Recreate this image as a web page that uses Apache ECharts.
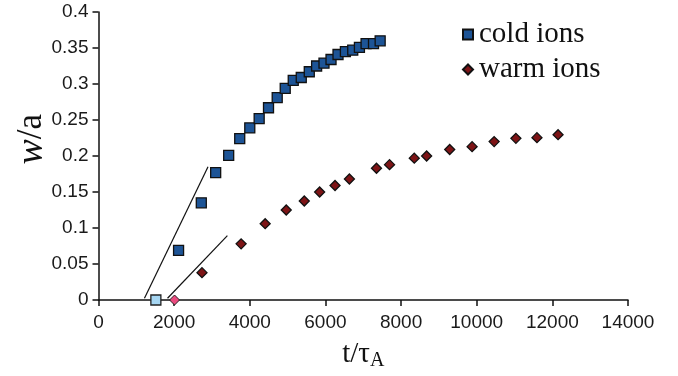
<!DOCTYPE html>
<html><head><meta charset="utf-8">
<script src="https://cdn.jsdelivr.net/npm/echarts@6/dist/echarts.min.js"></script>
<style>html,body{margin:0;padding:0;background:#fff}#c{width:678px;height:376px}</style>
</head><body><div id="c"></div>
<script>
// cold ions (t, w/a)
const coldT = [2117, 2718, 3098, 3442, 3734, 4000, 4248, 4495, 4725, 4937, 5149, 5361, 5573, 5767, 5962, 6148, 6333, 6528, 6722, 6899, 7075, 7271, 7447];
const coldW = [0.069, 0.135, 0.177, 0.201, 0.224, 0.239, 0.252, 0.267, 0.281, 0.294, 0.305, 0.309, 0.317, 0.325, 0.329, 0.334, 0.341, 0.345, 0.347, 0.351, 0.356, 0.356, 0.360];
// warm ions
const warmT = [2736, 3771, 4407, 4964, 5441, 5847, 6254, 6634, 7350, 7695, 8349, 8676, 9286, 9878, 10461, 11036, 11593, 12151];
const warmW = [0.038, 0.078, 0.106, 0.125, 0.1375, 0.150, 0.159, 0.168, 0.183, 0.188, 0.197, 0.200, 0.209, 0.213, 0.220, 0.2245, 0.2255, 0.2296];
// onset points
const coldOnset = [[1517, 0]];
const warmOnset = [[2011, 0]];
// fitted lines
const coldFit = [[1215, 0.0024], [2896, 0.185]];
const warmFit = [[1825, 0.0024], [3408, 0.0893]];
// axis ticks
const xTicks = [0, 2000, 4000, 6000, 8000, 10000, 12000, 14000];
const yTicks = [0, 0.05, 0.1, 0.15, 0.2, 0.25, 0.3, 0.35, 0.4];

const zip = (a, b) => a.map((v, i) => [v, b[i]]);
const chart = echarts.init(document.getElementById('c'));
const serif = 'Liberation Serif, Times New Roman, serif';
const tickFont = {fontFamily: 'Liberation Sans, Arial, sans-serif', fontSize: 19, color: '#1a1a1a'};
chart.setOption({
  animation: false,
  grid: {left: 98.5, right: 50, top: 12, bottom: 76, containLabel: false, outerBoundsMode: 'none'},
  legend: {
    orient: 'vertical', left: 457, top: 15, itemGap: 6,
    itemWidth: 10, itemHeight: 10,
    data: ['cold ions', 'warm ions'],
    textStyle: {fontFamily: serif, fontSize: 29, color: '#111', padding: [0, 0, 0, 1]}
  },
  xAxis: {
    type: 'value', min: 0, max: 14000, interval: 2000,
    axisLine: {show: true, lineStyle: {color: '#111', width: 1.5}},
    axisTick: {show: true, length: 6, lineStyle: {color: '#111', width: 1.5}},
    splitLine: {show: false},
    axisLabel: Object.assign({margin: 13, formatter: v => xTicks.includes(v) ? String(v) : ''}, tickFont),
    name: '{a|t/τ}{s|A}', nameLocation: 'middle', nameGap: 37,
    nameTextStyle: {rich: {
      a: {fontFamily: serif, fontSize: 29, color: '#111'},
      s: {fontFamily: serif, fontSize: 20, color: '#111', verticalAlign: 'bottom', padding: [14, 0, 0, 0]}
    }}
  },
  yAxis: {
    type: 'value', min: 0, max: 0.4, interval: 0.05,
    axisLine: {show: true, lineStyle: {color: '#111', width: 1.5}},
    axisTick: {show: true, length: 6, lineStyle: {color: '#111', width: 1.5}},
    splitLine: {show: false},
    axisLabel: Object.assign({margin: 10, formatter: v => {
      const t = yTicks.find(y => Math.abs(y - v) < 1e-9);
      return t === undefined ? '' : String(+t.toFixed(2));
    }}, tickFont)
  },
  graphic: [{
    type: 'text', left: 13, top: 114, rotation: Math.PI / 2,
    style: {rich: {
      w: {fontFamily: serif, fontStyle: 'italic', fontSize: 38, fill: '#111'},
      a: {fontFamily: serif, fontSize: 35, fill: '#111'}
    }, text: '{w|w}{a|/a}'}
  }],
  series: [
    {type: 'line', data: coldFit, symbol: 'none', lineStyle: {color: '#111', width: 1.2}, silent: true},
    {type: 'line', data: warmFit, symbol: 'none', lineStyle: {color: '#111', width: 1.2}, silent: true},
    {name: 'cold ions', type: 'scatter', data: zip(coldT, coldW), symbol: 'rect', symbolSize: 10,
     itemStyle: {color: '#1d5496', borderColor: '#111', borderWidth: 1.3, opacity: 1}},
    {name: 'warm ions', type: 'scatter', data: zip(warmT, warmW), symbol: 'diamond', symbolSize: 10,
     itemStyle: {color: '#7d1416', borderColor: '#111', borderWidth: 1.3, opacity: 1}},
    {type: 'scatter', data: coldOnset, symbol: 'rect', symbolSize: 10,
     itemStyle: {color: '#a6d6f2', borderColor: '#222', borderWidth: 1.3, opacity: 1}},
    {type: 'scatter', data: warmOnset, symbol: 'diamond', symbolSize: 10,
     itemStyle: {color: '#ea4a7e', borderColor: '#222', borderWidth: 1.0, opacity: 1}}
  ]
});
</script></body></html>
